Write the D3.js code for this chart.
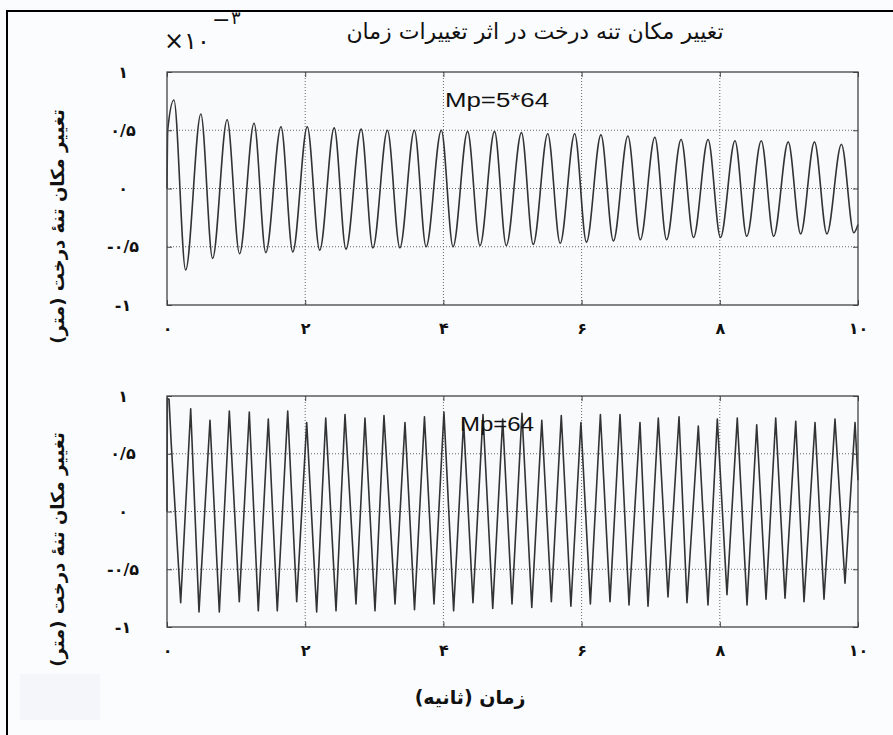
<!DOCTYPE html>
<html lang="fa">
<head>
<meta charset="UTF-8">
<title>تغییر مکان تنه درخت</title>
<script src="https://d3js.org/d3.v7.min.js"></script>
<style>
  body { margin: 0; background: #fbfcfe; }
  svg text { font-family: "DejaVu Sans", sans-serif; fill: #111; }
  .tick text { font-weight: bold; font-size: 16px; }
</style>
</head>
<body>
<div id="chart"></div>
<script>
const width = 893, height = 735;

// axis ticks (seconds, x10^-3 m)
const xTicks = [0, 2, 4, 6, 8, 10];
const xTickLabels = ["۰", "۲", "۴", "۶", "۸", "۱۰"];
const yTicks = [-1, -0.5, 0, 0.5, 1];
const yTickLabels = ["-۱", "-۰/۵", "۰", "۰/۵", "۱"];
const gridX = [2, 4, 6, 8];
const gridY = [-0.5, 0, 0.5];

// top panel, Mp=5*64 : start, peaks, troughs, end
const topStart = [[0, 0], [0.01, 0.5]];
const topPeakT = [0.10, 0.49, 0.87, 1.26, 1.65, 2.03, 2.42, 2.81, 3.19, 3.58, 3.97, 4.35, 4.74,
                  5.13, 5.51, 5.90, 6.28, 6.67, 7.06, 7.44, 7.83, 8.22, 8.60, 8.99, 9.37, 9.76];
const topPeakV = [0.76, 0.64, 0.59, 0.56, 0.53, 0.53, 0.52, 0.51, 0.50, 0.50, 0.50, 0.49, 0.49,
                  0.48, 0.47, 0.47, 0.46, 0.45, 0.44, 0.42, 0.42, 0.41, 0.41, 0.40, 0.40, 0.38];
const topTroughT = [0.27, 0.66, 1.05, 1.43, 1.82, 2.21, 2.59, 2.98, 3.37, 3.75, 4.14, 4.53, 4.91,
                    5.30, 5.69, 6.07, 6.46, 6.85, 7.23, 7.62, 8.01, 8.39, 8.78, 9.17, 9.55, 9.94];
const topTroughV = [-0.70, -0.60, -0.56, -0.55, -0.545, -0.53, -0.52, -0.51, -0.51, -0.50, -0.50, -0.49, -0.49,
                    -0.48, -0.47, -0.46, -0.45, -0.44, -0.44, -0.42, -0.42, -0.41, -0.41, -0.39, -0.39, -0.38];
const topEnd = [[10, -0.31]];

// bottom panel, Mp=64
const botStart = [[0, 0], [0.005, 0.98], [0.03, 0.97], [0.06, 0.6]];
const botPeakT = [0.343, 0.622, 0.902, 1.191, 1.466, 1.747, 2.022, 2.297, 2.576, 2.865, 3.140, 3.444,
                  3.726, 4.008, 4.292, 4.573, 4.858, 5.137, 5.424, 5.706, 5.990, 6.272,
                  6.556, 6.845, 7.110, 7.410, 7.689, 7.964, 8.253, 8.534, 8.809, 9.099, 9.378, 9.667, 9.957];
const botPeakV = [0.89, 0.79, 0.87, 0.86, 0.80, 0.87, 0.77, 0.81, 0.84, 0.81, 0.83, 0.77,
                  0.82, 0.86, 0.78, 0.84, 0.80, 0.85, 0.79, 0.83, 0.77, 0.84,
                  0.84, 0.77, 0.81, 0.82, 0.74, 0.80, 0.81, 0.75, 0.81, 0.78, 0.77, 0.80, 0.77];
const botTroughT = [0.198, 0.463, 0.757, 1.046, 1.321, 1.596, 1.877, 2.166, 2.446, 2.735, 3.010, 3.300,
                    3.582, 3.864, 4.148, 4.428, 4.714, 4.993, 5.279, 5.562, 5.845, 6.127,
                    6.411, 6.686, 6.961, 7.250, 7.525, 7.829, 8.104, 8.394, 8.669, 8.944, 9.219, 9.508, 9.812];
const botTroughV = [-0.79, -0.87, -0.87, -0.78, -0.86, -0.86, -0.78, -0.87, -0.86, -0.80, -0.86, -0.80,
                    -0.85, -0.80, -0.86, -0.79, -0.84, -0.80, -0.83, -0.78, -0.82, -0.80,
                    -0.78, -0.81, -0.82, -0.74, -0.79, -0.81, -0.72, -0.81, -0.76, -0.75, -0.78, -0.76, -0.62];
const botEnd = [[10, 0.27]];

function series(start, pt, pv, tt, tv, end) {
    const pts = start.slice();
    pt.forEach((t, i) => pts.push([t, pv[i]]));
    tt.forEach((t, i) => pts.push([t, tv[i]]));
    pts.push(...end);
    return pts.sort((a, b) => a[0] - b[0]);
}

const svg = d3.select("#chart").append("svg")
    .attr("width", width)
    .attr("height", height);

svg.append("rect").attr("width", width).attr("height", height).attr("fill", "#fbfcfe");
svg.append("rect").attr("x", 20).attr("y", 674).attr("width", 80).attr("height", 46).attr("fill", "#f4f6fa");

// outer frame
svg.append("path")
    .attr("d", "M7,735V11H893")
    .attr("fill", "none")
    .attr("stroke", "#000")
    .attr("stroke-width", 2);

const x = d3.scaleLinear().domain([0, 10]).range([167, 858]);

function drawPanel(top, bottom, data, curve, note, noteWidth) {
    const y = d3.scaleLinear().domain([-1, 1]).range([bottom, top]);
    const g = svg.append("g");

    g.append("rect")
        .attr("x", x(0)).attr("y", top)
        .attr("width", x(10) - x(0)).attr("height", bottom - top)
        .attr("fill", "#f9fafc");

    g.selectAll(".gx").data(gridX).enter().append("line")
        .attr("x1", d => x(d)).attr("x2", d => x(d))
        .attr("y1", top).attr("y2", bottom)
        .attr("stroke", "#666").attr("stroke-dasharray", "1,2");
    g.selectAll(".gy").data(gridY).enter().append("line")
        .attr("x1", x(0)).attr("x2", x(10))
        .attr("y1", d => y(d)).attr("y2", d => y(d))
        .attr("stroke", "#666").attr("stroke-dasharray", "1,2");

    const line = d3.line().x(d => x(d[0])).y(d => y(d[1])).curve(curve);
    g.append("path")
        .datum(data)
        .attr("d", line)
        .attr("fill", "none")
        .attr("stroke", "#333")
        .attr("stroke-width", 1.6)
        .attr("stroke-linejoin", "round");

    // inward ticks like the original plot
    const bx = g.append("g").attr("transform", `translate(0,${bottom})`)
        .call(d3.axisBottom(x).tickValues(xTicks).tickFormat((d, i) => xTickLabels[i])
            .tickSize(-5).tickPadding(18));
    const tx = g.append("g").attr("transform", `translate(0,${top})`)
        .call(d3.axisTop(x).tickValues(xTicks).tickFormat("").tickSize(-5));
    const ly = g.append("g").attr("transform", `translate(${x(0)},0)`)
        .call(d3.axisLeft(y).tickValues(yTicks).tickFormat((d, i) => yTickLabels[i])
            .tickSize(-5).tickPadding(44));
    const ry = g.append("g").attr("transform", `translate(${x(10)},0)`)
        .call(d3.axisRight(y).tickValues(yTicks).tickFormat("").tickSize(-5));
    [bx, tx, ly, ry].forEach(a => {
        a.select(".domain").remove();
        a.selectAll(".tick line").attr("stroke", "#444");
    });
    ly.selectAll(".tick text").attr("text-anchor", "middle").attr("direction", "ltr");

    g.append("rect")
        .attr("x", x(0)).attr("y", top)
        .attr("width", x(10) - x(0)).attr("height", bottom - top)
        .attr("fill", "none").attr("stroke", "#444").attr("stroke-width", 1.3);

    g.append("text")
        .attr("x", 497).attr("y", top + 35)
        .attr("text-anchor", "middle")
        .attr("textLength", noteWidth)
        .attr("lengthAdjust", "spacingAndGlyphs")
        .style("font-family", "'Liberation Sans', Arial, sans-serif")
        .style("font-size", "20px")
        .text(note);

    g.append("text")
        .attr("transform", `translate(64,${(top + bottom) / 2 + 38}) rotate(-90)`)
        .attr("text-anchor", "middle")
        .style("font-weight", "bold")
        .style("font-size", "18px")
        .text("تغییر مکان تنهٔ درخت (متر)");
}

drawPanel(72, 305,
    series(topStart, topPeakT, topPeakV, topTroughT, topTroughV, topEnd),
    d3.curveMonotoneX, "Mp=5*64", 104);
drawPanel(396, 627,
    series(botStart, botPeakT, botPeakV, botTroughT, botTroughV, botEnd),
    d3.curveLinear, "Mp=64", 74);

// title and exponent
svg.append("text")
    .attr("x", 535).attr("y", 39)
    .attr("text-anchor", "middle")
    .style("font-size", "22px")
    .text("تغییر مکان تنه درخت در اثر تغییرات زمان");
svg.append("text")
    .attr("x", 164).attr("y", 49)
    .attr("direction", "ltr")
    .style("font-size", "24px")
    .text("×۱۰");
svg.append("text")
    .attr("x", 212).attr("y", 27)
    .attr("direction", "ltr")
    .style("font-size", "22px")
    .text("−");
svg.append("text")
    .attr("x", 231).attr("y", 24)
    .attr("direction", "ltr")
    .style("font-size", "18px")
    .text("۳");

svg.append("text")
    .attr("x", 470).attr("y", 704)
    .attr("text-anchor", "middle")
    .style("font-weight", "bold")
    .style("font-size", "19px")
    .text("زمان (ثانیه)");
</script>
</body>
</html>
